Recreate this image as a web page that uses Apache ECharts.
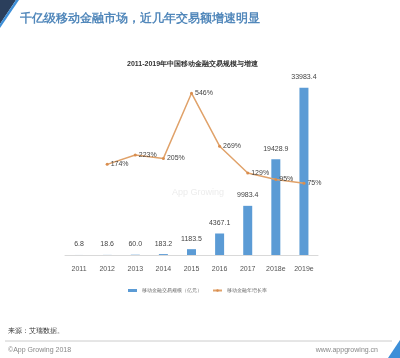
<!DOCTYPE html>
<html>
<head>
<meta charset="utf-8">
<script src="https://cdn.jsdelivr.net/npm/echarts@6/dist/echarts.min.js"></script>
<style>html,body{margin:0;padding:0;background:#fff}#c{width:400px;height:358px}</style>
</head>
<body>
<div id="c"></div>
<script>
var categories = ['2011','2012','2013','2014','2015','2016','2017','2018e','2019e'];
var volume = [6.8, 18.6, 60.0, 183.2, 1183.5, 4367.1, 9983.4, 19428.9, 33983.4];
var volumeLabels = ['6.8','18.6','60.0','183.2','1183.5','4367.1','9983.4','19428.9','33983.4'];
var growth = [null, 174, 223, 205, 546, 269, 129, 95, 75];
var seriesNames = ['移动金融交易规模（亿元）', '移动金融年增长率'];

var chart = echarts.init(document.getElementById('c'), null, {renderer: 'canvas'});
var font = 'sans-serif';
chart.setOption({
  animation: false,
  backgroundColor: '#ffffff',
  title: [
    {text: '千亿级移动金融市场，近几年交易额增速明显', left: 20, top: 13, padding: 0,
     textStyle: {fontSize: 12, fontWeight: 'bold', color: '#5288bb', fontFamily: font}},
    {text: '2011-2019年中国移动金融交易规模与增速', left: 127, top: 61, padding: 0,
     textStyle: {fontSize: 7, fontWeight: 'bold', color: '#333', fontFamily: font}}
  ],
  grid: {left: 65, right: 82, top: 58, bottom: 103},
  legend: {
    left: 123, top: 283, itemWidth: 9, itemHeight: 3, itemGap: 10,
    textStyle: {fontSize: 5, color: '#666', fontFamily: font},
    data: [{name: seriesNames[0], icon: 'rect'}, {name: seriesNames[1]}]
  },
  xAxis: {
    type: 'category', data: categories,
    axisLine: {lineStyle: {color: '#d9d9d9'}},
    axisTick: {show: false},
    axisLabel: {fontSize: 7, color: '#555', margin: 11, interval: 0, fontFamily: font}
  },
  yAxis: [
    {type: 'value', min: 0, max: 40000, show: false, splitLine: {show: false}},
    {type: 'value', min: -300, max: 730, show: false, splitLine: {show: false}}
  ],
  series: [
    {
      name: seriesNames[0], type: 'bar', data: volume, barWidth: 9,
      itemStyle: {color: '#5b9bd5'},
      label: {show: true, position: 'top', distance: 7, fontSize: 7, color: '#444', fontFamily: font,
        formatter: function(p){ return volumeLabels[p.dataIndex]; }}
    },
    {
      name: seriesNames[1], type: 'line', yAxisIndex: 1, data: growth,
      symbol: 'circle', symbolSize: 3, connectNulls: false,
      lineStyle: {color: '#e0a26a', width: 1.5},
      itemStyle: {color: '#d98d4e'},
      label: {show: true, position: 'right', distance: 2, fontSize: 7, color: '#444', fontFamily: font,
        formatter: '{c}%'}
    }
  ],
  graphic: [
    {type: 'polygon', shape: {points: [[0,0],[16,0],[0,24]]}, style: {fill: '#2b3f5c'}},
    {type: 'polygon', shape: {points: [[16,0],[19,0],[0,28],[0,24]]}, style: {fill: '#3d8fd8'}},
    {type: 'text', left: 172, top: 188, style: {text: 'App Growing', fontSize: 9, fill: '#ececec', fontFamily: font}},
    {type: 'text', left: 8, top: 328, style: {text: '来源：艾瑞数据。', fontSize: 7, fill: '#333', fontFamily: font}},
    {type: 'line', shape: {x1: 5, y1: 341, x2: 392, y2: 341}, style: {stroke: '#cccccc', lineWidth: 1}},
    {type: 'text', left: 8, top: 347, style: {text: '©App Growing 2018', fontSize: 7, fill: '#888', fontFamily: font}},
    {type: 'text', right: 22, top: 347, style: {text: 'www.appgrowing.cn', fontSize: 7, fill: '#888', fontFamily: font}},
    {type: 'polygon', shape: {points: [[400,340],[400,358],[388,358]]}, style: {fill: '#3d8fd8'}}
  ]
});
</script>
</body>
</html>
